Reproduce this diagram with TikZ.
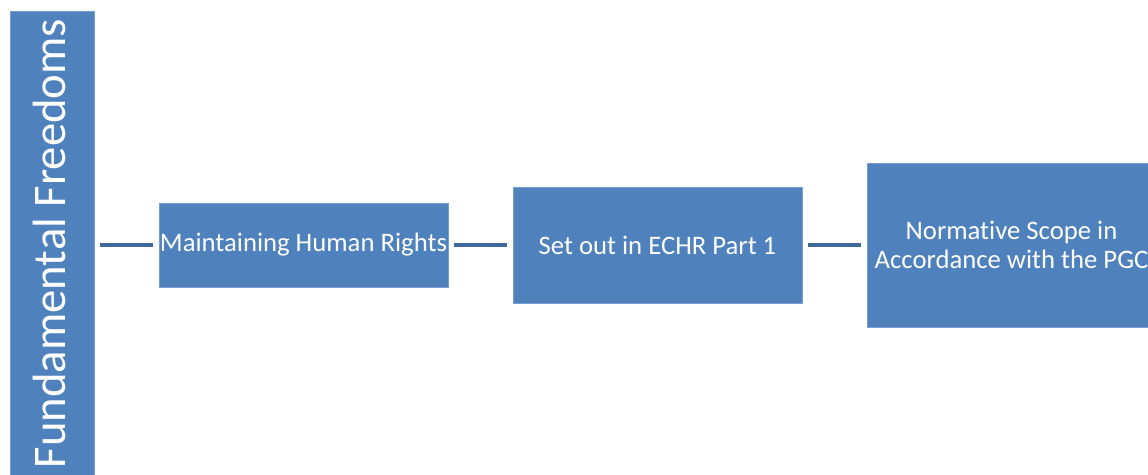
\documentclass[tikz,border=0pt]{standalone}
\usepackage{fontspec}
\setmainfont{Carlito}[Ligatures=NoCommon]
\definecolor{boxfill}{HTML}{4F81BD}
\definecolor{boxedge}{HTML}{7A9DCF}
\definecolor{linkcol}{HTML}{41689C}
\tikzset{
  blockbox/.style={rectangle, fill=boxfill, draw=boxedge, line width=0.8pt, inner sep=0pt,
    text=white, align=center, font=\fontsize{26.7}{29}\selectfont},
  link/.style={draw=linkcol, line width=4pt, shorten <=6pt, shorten >=6pt}
}
\begin{document}
\begin{tikzpicture}[x=1pt,y=-1pt]
\useasboundingbox (0,0) rectangle (1148,474);
\fill[white] (0,0) rectangle (1148,474);
\clip (0,0) rectangle (1148,474);
\node[blockbox, minimum width=84pt, minimum height=479pt] (ff) at (52,250.5) {};
\node[rotate=90, anchor=base, text=white, inner sep=0pt, font=\fontsize{46.7}{50}\selectfont] (fftext) at (65,243.5) {Fundamental Freedoms};
\node[blockbox, minimum width=289pt, minimum height=84pt] (b1) at (303.5,245) {Maintaining Human Rights};
\node[blockbox, minimum width=289pt, minimum height=116pt] (b2) at (657.5,245) {Set out in ECHR Part 1};
\node[blockbox, minimum width=289pt, minimum height=164pt] (b3) at (1011.5,245) {Normative Scope in\\Accordance with the PGC};
\draw[link] (b1.west -| ff.east) -- (b1.west);
\draw[link] (b1.east) -- (b2.west);
\draw[link] (b2.east) -- (b3.west);
\end{tikzpicture}
\end{document}
